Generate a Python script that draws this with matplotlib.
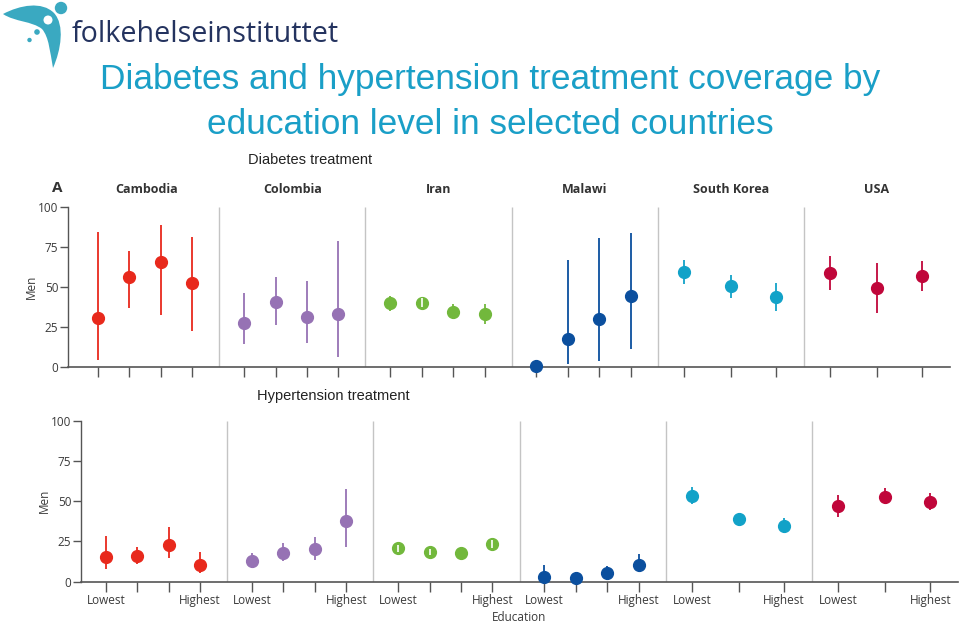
import numpy as np
import matplotlib
matplotlib.use("Agg")
import matplotlib.pyplot as plt
from matplotlib.path import Path
from matplotlib.patches import PathPatch, Circle

countries = ["Cambodia", "Colombia", "Iran", "Malawi", "South Korea", "USA"]
colors = ["#e8291c", "#9672b4", "#72b83c", "#0b4f9e", "#12a2c8", "#c0063a"]

# diabetes treatment, men (%)
diab_est = [[30.8, 56.1, 65.7, 52.7], [27.6, 40.4, 31.2, 33.1], [39.7, 40.2, 34.5, 33.1],
            [0.5, 17.6, 30.1, 44.4], [59.6, 50.4, 43.5], [59.0, 49.2, 57.1]]
diab_lo = [[4.2, 37.0, 32.8, 22.8], [14.4, 26.2, 15.3, 6.3], [35.1, 37.5, 29.7, 26.8],
           [0.0, 2.1, 3.8, 11.1], [51.7, 43.3, 34.9], [48.1, 33.5, 47.5]]
diab_hi = [[84.3, 72.6, 88.7, 81.2], [46.0, 56.1, 54.0, 78.5], [44.4, 43.0, 39.1, 39.3],
           [1.5, 66.9, 80.5, 83.7], [66.9, 57.5, 52.3], [69.5, 65.1, 66.1]]

# hypertension treatment, men (%)
hyp_est = [[15.3, 15.7, 22.8, 10.4], [12.8, 17.6, 20.3, 37.5], [20.7, 18.4, 17.8, 23.2],
           [2.7, 2.1, 5.4, 10.1], [53.4, 38.9, 34.8], [47.0, 52.8, 49.5]]
hyp_lo = [[7.7, 10.8, 14.9, 5.6], [8.7, 13.0, 13.7, 21.3], [18.6, 16.5, 13.9, 21.0],
          [0.5, 0.5, 1.0, 5.8], [48.4, 34.4, 30.4], [40.0, 48.0, 44.3]]
hyp_hi = [[28.4, 21.7, 33.7, 18.4], [17.6, 24.2, 27.5, 57.3], [22.9, 20.4, 21.7, 25.6],
          [10.1, 4.5, 9.7, 17.2], [58.6, 42.9, 39.8], [53.8, 58.0, 54.9]]

yticks = [0, 25, 50, 75, 100]
W, H = 960, 624

fig = plt.figure(figsize=(W / 100, H / 100), dpi=100)
fig.patch.set_facecolor("white")


def fx(px):
    return px / W


def fy(py):
    return 1 - py / H


def positions(n):
    if n == 4:
        return [0.17, 0.385, 0.60, 0.815]
    return [0.18, 0.50, 0.81]


def panel(rect, est, lo, hi, xmin, labels):
    ax = fig.add_axes(rect)
    ax.set_xlim(xmin, 6)
    ax.set_ylim(0, 100)
    for s in ["top", "right"]:
        ax.spines[s].set_visible(False)
    ax.spines["left"].set_color("#555555")
    ax.spines["bottom"].set_color("#555555")
    ax.spines["left"].set_linewidth(1.0)
    ax.spines["bottom"].set_linewidth(1.2)
    ax.set_yticks(yticks)
    ax.tick_params(axis="y", length=6, width=1, color="#555555", labelsize=8.5,
                   labelcolor="#3a3a3a", pad=1)
    ax.tick_params(axis="x", length=7, width=1, color="#555555", labelsize=8.5,
                   labelcolor="#3a3a3a", pad=2)
    for lab in ax.get_yticklabels():
        lab.set_fontfamily("Open Sans")
    ax.set_ylabel("Men", fontsize=8.5, color="#3a3a3a", family="Open Sans", labelpad=0)

    xt, xl = [], []
    for i in range(len(countries)):
        if i > 0:
            ax.vlines(i, 0, 100, color="#c4c4c4", lw=1.0, zorder=1)
        xs = [i + p for p in positions(len(est[i]))]
        for k, x in enumerate(xs):
            ax.vlines(x, lo[i][k], hi[i][k], color=colors[i], lw=1.3, zorder=3, clip_on=False)
            ax.plot(x, est[i][k], "o", ms=8.5, color=colors[i], mec=colors[i], zorder=4,
                    clip_on=False)
            if est[i][k] - lo[i][k] < 3.7 and hi[i][k] - est[i][k] < 3.7 and est[i][k] > 5:
                ax.vlines(x, lo[i][k], hi[i][k], color="white", lw=1.2, zorder=5)
            xt.append(x)
            if labels:
                xl.append("Lowest" if k == 0 else ("Highest" if k == len(xs) - 1 else ""))
            else:
                xl.append("")
    ax.set_xticks(xt)
    ax.set_xticklabels(xl, family="Open Sans")
    return ax


# top panel: diabetes
ax1 = panel([fx(68), fy(367), fx(882), 160 / H], diab_est, diab_lo, diab_hi, -0.035, False)
for i, c in enumerate(countries):
    ax1.text(i + 0.5, 107, c, ha="center", va="bottom", fontsize=9, fontweight="bold",
             family="Open Sans", color="#333333", clip_on=False)

# bottom panel: hypertension
ax2 = panel([fx(81), fy(581.7), fx(877), 161 / H], hyp_est, hyp_lo, hyp_hi, 0, True)
ax2.set_xlabel("Education", fontsize=8.5, color="#3a3a3a", family="Open Sans", labelpad=3)

fig.text(fx(57), fy(188), "A", fontsize=11, fontweight="bold", family="Open Sans",
         color="#333333", ha="center", va="center")
fig.text(fx(310), fy(160), "Diabetes treatment", fontsize=10.5, family="Liberation Sans",
         color="#222222", ha="center", va="center")
fig.text(fx(333), fy(396), "Hypertension treatment", fontsize=10.5, family="Liberation Sans",
         color="#222222", ha="center", va="center")

# title
title_col = "#1a9fc7"
fig.text(fx(490), fy(80), "Diabetes and hypertension treatment coverage by", fontsize=25.4,
         family="Liberation Sans", color=title_col, ha="center", va="center")
fig.text(fx(490), fy(124), "education level in selected countries", fontsize=25.4,
         family="Liberation Sans", color=title_col, ha="center", va="center")

# logo
lg = fig.add_axes([0, 0, 1, 1], zorder=-1)
lg.set_xlim(0, W)
lg.set_ylim(H, 0)
lg.axis("off")
teal = "#3aa9c1"
verts = [(3, 14), (20, 5), (42, 1), (54, 13), (65, 25), (61, 50), (53, 68),
         (50, 52), (49, 37), (42, 29), (32, 21), (15, 22), (3, 14), (3, 14)]
codes = [Path.MOVETO] + [Path.CURVE4] * 12 + [Path.CLOSEPOLY]
lg.add_patch(PathPatch(Path(verts, codes), fc=teal, ec="none"))
lg.add_patch(Circle((48, 20), 4.5, fc="white", ec="none"))
lg.add_patch(Circle((61, 8), 6.2, fc=teal, ec="none"))
lg.add_patch(Circle((37, 32), 2.8, fc=teal, ec="none"))
lg.add_patch(Circle((29.5, 40), 2.2, fc=teal, ec="none"))
fig.text(fx(72), fy(34), "folkehelseinstituttet", fontsize=20.6, family="Open Sans",
         color="#24335f", ha="left", va="center")

fig.savefig("out.png", dpi=100, facecolor="white")
